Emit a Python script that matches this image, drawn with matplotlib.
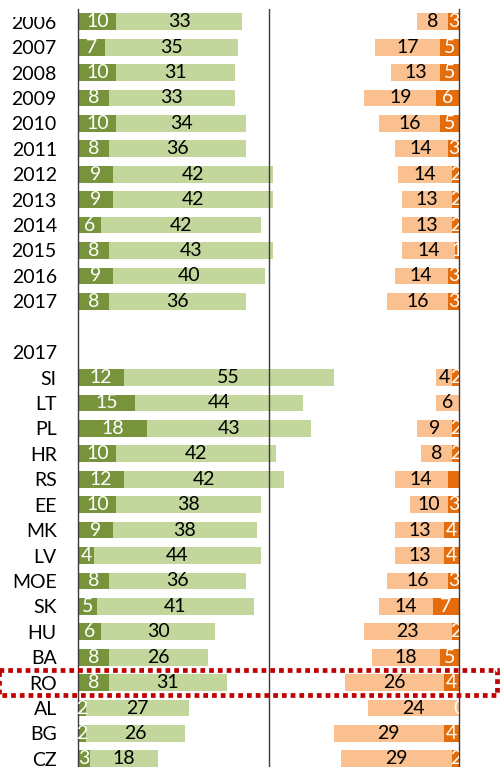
import matplotlib
matplotlib.use("Agg")
import matplotlib.pyplot as plt
from matplotlib.patches import Rectangle
from matplotlib.transforms import Bbox

plt.rcParams['font.family'] = ['Lato', 'DejaVu Sans']

categories = ["2006", "2007", "2008", "2009", "2010", "2011", "2012", "2013",
              "2014", "2015", "2016", "2017", "", "2017",
              "SI", "LT", "PL", "HR", "RS", "EE", "MK", "LV", "MOE", "SK",
              "HU", "BA", "RO", "AL", "BG", "CZ"]
# None = row without bars
green_dark = [10, 7, 10, 8, 10, 8, 9, 9, 6, 8, 9, 8, None, None,
              12, 15, 18, 10, 12, 10, 9, 4, 8, 5, 6, 8, 8, 2, 2, 3]
green_light = [33, 35, 31, 33, 34, 36, 42, 42, 42, 43, 40, 36, None, None,
               55, 44, 43, 42, 42, 38, 38, 44, 36, 41, 30, 26, 31, 27, 26, 18]
orange_light = [8, 17, 13, 19, 16, 14, 14, 13, 13, 14, 14, 16, None, None,
                4, 6, 9, 8, 14, 10, 13, 13, 16, 14, 23, 18, 26, 24, 29, 29]
orange_dark = [3, 5, 5, 6, 5, 3, 2, 2, 2, 1, 3, 3, None, None,
               2, 0, 2, 2, 3, 3, 4, 4, 3, 7, 2, 5, 4, 0, 4, 2]
orange_dark_labels = ["3", "5", "5", "6", "5", "3", "2", "2", "2", "1", "3", "3", "", "",
                      "2", "", "2", "2", "", "3", "4", "4", "3", "7", "2", "5", "4", "0", "4", "2"]
highlight = "RO"

C_GD = "#77933C"
C_GL = "#C3D69B"
C_OL = "#FAC090"
C_OD = "#E46C0A"
LINE = "#3a3a3a"

W, H = 500, 767
fig = plt.figure(figsize=(W / 100, H / 100), dpi=100)
ax = fig.add_axes([78.3 / W, 0, 381 / W, 1 - 9 / H])

n = len(categories)
ys = list(range(n))
bh = 0.66
fs = 14

for y, gd, gl, ol, od, odl in zip(ys, green_dark, green_light, orange_light,
                                  orange_dark, orange_dark_labels):
    if gd is None:
        continue
    ax.barh(y, gd, left=0, height=bh, color=C_GD, linewidth=0)
    ax.barh(y, gl, left=gd, height=bh, color=C_GL, linewidth=0)
    ax.barh(y, ol, left=100 - od - ol, height=bh, color=C_OL, linewidth=0)
    ax.barh(y, od, left=100 - od, height=bh, color=C_OD, linewidth=0)
    ax.text(gd / 2, y, str(gd), ha="center", va="center", color="white",
            fontsize=fs, clip_on=True)
    ax.text(gd + gl / 2, y, str(gl), ha="center", va="center", color="black",
            fontsize=fs, clip_on=True)
    ax.text(100 - od - ol / 2, y, str(ol), ha="center", va="center", color="black",
            fontsize=fs, clip_on=True)
    if odl:
        ax.text(100 - od / 2, y, odl, ha="center", va="center", color="white",
                fontsize=fs, clip_on=True)

ax.set_xlim(0, 100)
ax.set_ylim(29.32, -0.5)
ax.set_yticks(ys)
ax.set_yticklabels(categories, fontsize=fs)
ax.tick_params(axis="y", length=0, pad=15.5)
ax.set_xticks([])
ax.spines["top"].set_visible(False)
ax.spines["bottom"].set_visible(False)
for s in ("left", "right"):
    ax.spines[s].set_color(LINE)
    ax.spines[s].set_linewidth(1.0)
ax.axvline(50, color=LINE, linewidth=1.0)

# the reference crop cuts the top of the first label
clip = Bbox.from_extents(0, 0, W, H - 16.7)
for lab in ax.get_yticklabels():
    lab.set_clip_on(True)
    lab.set_clip_box(clip)

ri = categories.index(highlight)
rect = Rectangle((-20.8, ri - 0.5), 130.6, 1.0, fill=False, edgecolor="#C00000",
                 linewidth=3.4, linestyle=(0, (1, 0.85)), clip_on=False, zorder=5)
ax.add_patch(rect)

fig.savefig("out.png", dpi=100)
